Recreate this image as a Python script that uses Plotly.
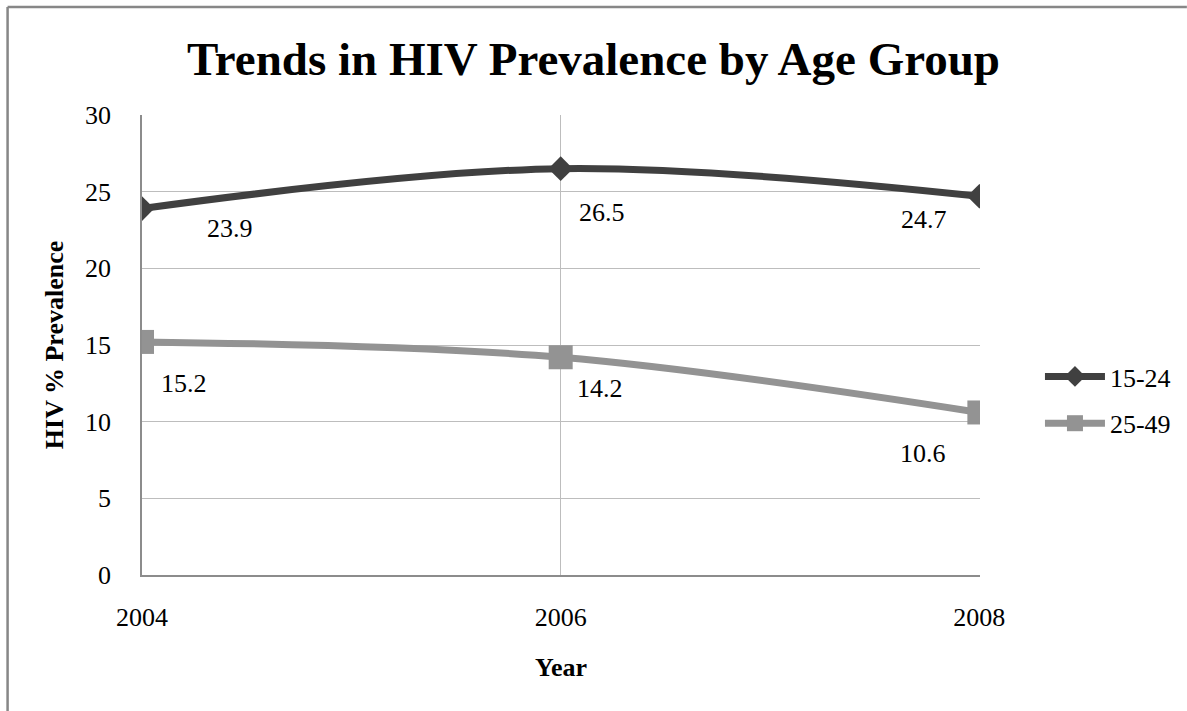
import plotly.graph_objects as go

years = [2004, 2006, 2008]
series_names = ["15-24", "25-49"]
prev_15_24 = [23.9, 26.5, 24.7]
prev_25_49 = [15.2, 14.2, 10.6]
y_ticks = [0, 5, 10, 15, 20, 25, 30]

title_text = "Trends in HIV Prevalence by Age Group"
x_title = "Year"
y_title = "HIV % Prevalence"

FONT = "Liberation Serif, Times New Roman, serif"
DARK = "#404040"
GRAY = "#939393"

fig = go.Figure()
fig.add_trace(go.Scatter(
    x=years, y=prev_15_24, name=series_names[0], mode="lines+markers",
    line=dict(color=DARK, width=7, shape="spline", smoothing=1.0),
    marker=dict(symbol="diamond", size=19, color=DARK),
    legendgroup="a",
))
fig.add_trace(go.Scatter(
    x=years, y=prev_25_49, name=series_names[1], mode="lines+markers",
    line=dict(color=GRAY, width=7, shape="spline", smoothing=1.0),
    marker=dict(symbol="square", size=24, color=GRAY),
    legendgroup="b",
))

# data labels (offsets in pixels relative to each point)
offs_a = [(88, -20), (41, -44), (-55, -23)]
offs_b = [(42, -42), (39, -31), (-56, -41)]
for vals, offs in ((prev_15_24, offs_a), (prev_25_49, offs_b)):
    for xv, yv, (dx, dy) in zip(years, vals, offs):
        fig.add_annotation(x=xv, y=yv, text=f"{yv}", showarrow=False,
                           xshift=dx, yshift=dy,
                           font=dict(family=FONT, size=26, color="black"))

L, R, T, B = 141.5, 207, 115, 136
W, H = 1187, 711
pw, ph = W - L - R, H - T - B

def px(xp):
    return (xp - L) / pw

def py(yp):
    return (H - B - yp) / ph

# outer chart border (top and left edges visible in the frame)
border = dict(color="#878787", width=2.5)
fig.add_shape(type="line", xref="paper", yref="paper",
              x0=px(7), x1=px(W), y0=py(7), y1=py(7), line=border, layer="below")
fig.add_shape(type="line", xref="paper", yref="paper",
              x0=px(7), x1=px(7), y0=py(7), y1=py(H), line=border, layer="below")

fig.update_layout(
    width=W, height=H,
    margin=dict(l=L, r=R, t=T, b=B, autoexpand=False),
    paper_bgcolor="white", plot_bgcolor="white",
    font=dict(family=FONT, size=26, color="black"),
    title=dict(text=f"<b>{title_text}</b>", x=0.5, xref="container",
               y=1 - 59 / H, yref="container", xanchor="center", yanchor="middle",
               font=dict(family=FONT, size=47, color="black")),
    legend=dict(x=px(1040), y=py(400), xanchor="left", yanchor="middle",
                font=dict(family=FONT, size=26, color="black"),
                bgcolor="rgba(0,0,0,0)", tracegroupgap=10, traceorder="grouped",
                itemwidth=60),
    showlegend=True,
)
fig.update_xaxes(
    range=[2004, 2008.003], tickvals=years, ticktext=[str(y) for y in years],
    showgrid=True, gridcolor="#bdbdbd", gridwidth=1.3,
    showline=True, linecolor="#8c8c8c", linewidth=1.5,
    zeroline=False, ticks="", ticklabelstandoff=18,
    tickfont=dict(family=FONT, size=26, color="black"),
    title=dict(text=f"<b>{x_title}</b>", standoff=27,
               font=dict(family=FONT, size=26, color="black")),
)
fig.update_yaxes(
    range=[0, 30], tickvals=y_ticks, ticktext=[str(v) for v in y_ticks],
    showgrid=True, gridcolor="#bdbdbd", gridwidth=1.3,
    showline=True, linecolor="#8c8c8c", linewidth=1.5,
    zeroline=False, ticks="", ticklabelstandoff=24,
    tickfont=dict(family=FONT, size=26, color="black"),
    title=dict(text=f"<b>{y_title}</b>", standoff=14,
               font=dict(family=FONT, size=26, color="black")),
)

fig.write_html("out.html", config={"displayModeBar": False})
